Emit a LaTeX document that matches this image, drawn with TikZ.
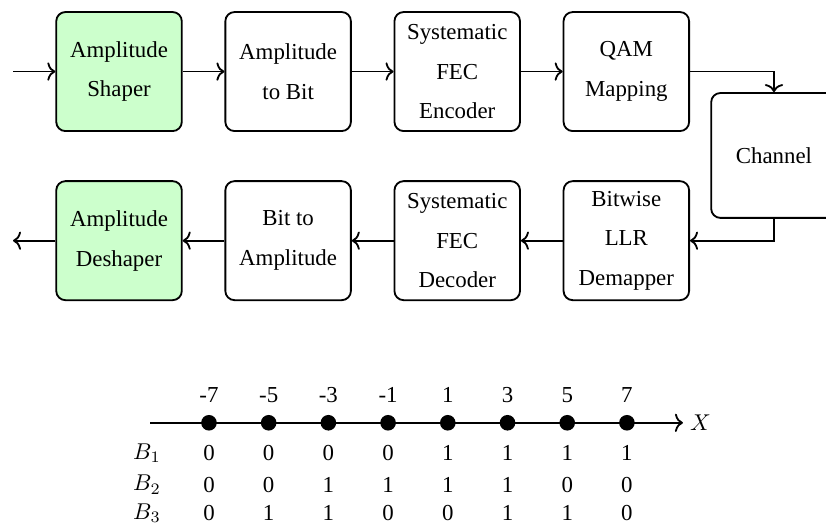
\documentclass[tikz,border=0pt]{standalone}
\usepackage{fontspec}
\setmainfont{Liberation Serif}
\usetikzlibrary{arrows.meta,positioning,calc}
\definecolor{shapegreen}{RGB}{204,255,204}
\tikzset{
  blk/.style={draw, thick, rounded corners=4pt, align=center, minimum width=1.93cm, minimum height=1.83cm, inner sep=0pt, font=\linespread{1.45}\selectfont, fill=white},
  gblk/.style={blk, fill=shapegreen},
  arr/.style={-{To[length=3.5pt,width=8pt]}, thick},
  pt/.style={circle, fill=black, minimum size=0.24cm, inner sep=0pt},
}

\begin{document}
\begin{tikzpicture}[x=1cm,y=1cm]
\clip (0,0) rectangle (12.7,-8.04);
% transmitter chain
\coordinate (in) at (0.2,-1.1);
\node[gblk] (shaper) at (1.83,-1.1) {Amplitude\\Shaper};
\node[blk] (a2b) at (4.43,-1.1) {Amplitude\\to Bit};
\node[blk] (enc) at (7.03,-1.1) {Systematic\\FEC\\Encoder};
\node[blk] (qam) at (9.63,-1.1) {QAM\\Mapping};
\node[blk, minimum height=1.92cm] (chan) at (11.9,-2.39) {Channel};
% receiver chain
\node[blk] (demap) at (9.63,-3.7) {Bitwise\\LLR\\Demapper};
\node[blk] (dec) at (7.03,-3.7) {Systematic\\FEC\\Decoder};
\node[blk] (b2a) at (4.43,-3.7) {Bit to\\Amplitude};
\node[gblk] (deshaper) at (1.83,-3.7) {Amplitude\\Deshaper};
\coordinate (out) at (0.2,-3.7);
\draw[arr] (in) -- (shaper);
\draw[arr] (shaper) -- (a2b);
\draw[arr] (a2b) -- (enc);
\draw[arr] (enc) -- (qam);
\draw[arr] (qam.east) -| (chan.north);
\draw[arr] (chan.south) |- (demap.east);
\draw[arr] (demap) -- (dec);
\draw[arr] (dec) -- (b2a);
\draw[arr] (b2a) -- (deshaper);
\draw[arr] (deshaper) -- (out);
% 8-PAM labelling
\coordinate (x0) at (2.31,-6.5);
\coordinate (x1) at (10.5,-6.5);
\draw[arr] (x0) -- (x1);
\node[anchor=west, inner sep=3pt] (xl) at (x1) {$X$};
\node (b1) at (2.26,-6.965) {$B_1$};
\node (b2) at (2.26,-7.45) {$B_2$};
\node (b3) at (2.26,-7.89) {$B_3$};
\foreach \v/\a/\b/\c [count=\i] in {-7/0/0/0,-5/0/0/1,-3/0/1/1,-1/0/1/0,1/1/1/0,3/1/1/1,5/1/0/1,7/1/0/0}{
  \node[pt] (p\i) at ({3.213+0.918*(\i-1)},-6.5) {};
  \node (v\i) at ({3.213+0.918*(\i-1)},-6.07) {\v};
  \node (r\i) at ({3.213+0.918*(\i-1)},-6.965) {\a};
  \node (s\i) at ({3.213+0.918*(\i-1)},-7.45) {\b};
  \node (t\i) at ({3.213+0.918*(\i-1)},-7.89) {\c};
}
\end{tikzpicture}
\end{document}
